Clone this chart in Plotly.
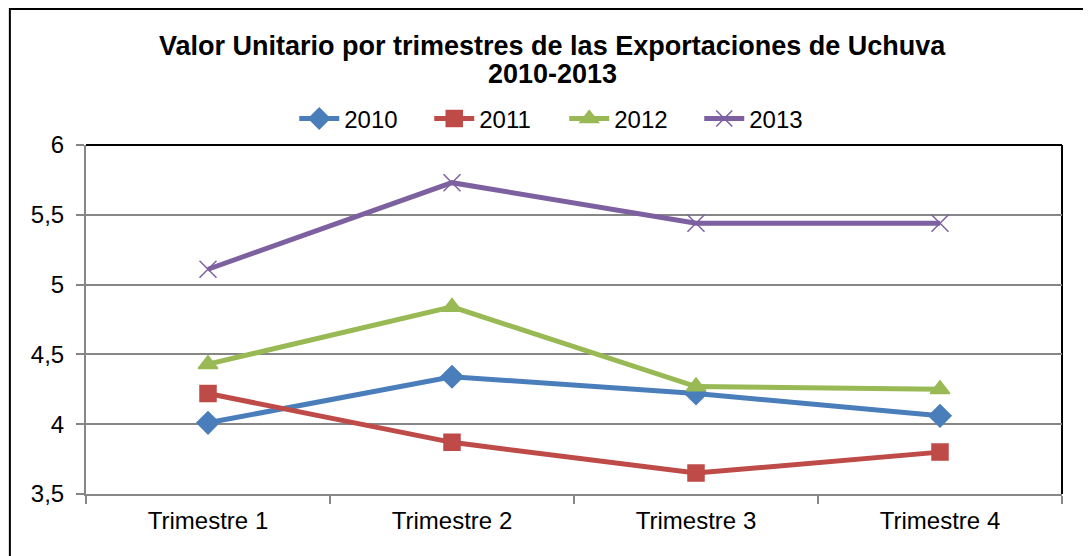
import plotly.graph_objects as go

trimestres = ["Trimestre 1", "Trimestre 2", "Trimestre 3", "Trimestre 4"]
v2010 = [4.01, 4.34, 4.22, 4.06]
v2011 = [4.22, 3.87, 3.65, 3.80]
v2012 = [4.43, 4.84, 4.27, 4.25]
v2013 = [5.11, 5.73, 5.44, 5.44]

series = [
    ("2010", v2010, "#4A7EBB", "diamond", 17),
    ("2011", v2011, "#BE4B48", "square", 16),
    ("2012", v2012, "#98B954", "triangle-up", 17),
    ("2013", v2013, "#7D60A0", "x-thin", 17),
]

fig = go.Figure()
for name, vals, color, symbol, size in series:
    fig.add_trace(go.Scatter(
        x=trimestres,
        y=vals,
        name=name,
        mode="lines+markers",
        line=dict(color=color, width=5),
        marker=dict(symbol=symbol, size=size, color=color,
                    line=dict(color=color, width=1.5)),
    ))

# the page body has an 8px margin, so the figure is 8px smaller
fig.update_layout(
    width=1083,
    height=548,
    margin=dict(l=78, r=29, t=137, b=62),
    paper_bgcolor="white",
    plot_bgcolor="white",
    font=dict(family="Liberation Sans, Arial", size=24, color="black"),
    showlegend=True,
    legend=dict(
        orientation="h",
        x=0.49, xanchor="center",
        y=1.075, yanchor="middle",
        font=dict(size=24),
        itemwidth=40,
        entrywidth=80,
        traceorder="normal",
    ),
    separators=",.",
)

# two-line bold title
fig.add_annotation(text="<b>Valor Unitario por trimestres de las Exportaciones de Uchuva</b>",
                   xref="paper", yref="paper", x=0.4775, y=1.2837, yanchor="middle",
                   showarrow=False, font=dict(size=27, color="black"))
fig.add_annotation(text="<b>2010-2013</b>",
                   xref="paper", yref="paper", x=0.4775, y=1.2034, yanchor="middle",
                   showarrow=False, font=dict(size=27, color="black"))

fig.update_xaxes(
    range=[-0.5, 3.5],
    showline=True, linecolor="#868686", linewidth=2,
    ticks="outside", tickson="boundaries", ticklen=8, tickcolor="#868686", tickwidth=2,
    showgrid=False,
    ticklabelstandoff=4,
)
fig.update_yaxes(
    range=[3.5, 6],
    dtick=0.5,
    tickformat=".1~f",
    showline=True, linecolor="#868686", linewidth=2,
    ticks="outside", ticklen=8, tickcolor="#868686", tickwidth=2,
    showgrid=True, gridcolor="#868686", gridwidth=2,
    zeroline=False,
    ticklabelstandoff=7,
)

# plot area border (top and right) and outer chart border
fig.add_shape(type="line", xref="paper", yref="paper", x0=0, x1=1, y0=1, y1=1,
              line=dict(color="black", width=2), layer="below")
fig.add_shape(type="line", xref="paper", yref="paper", x0=1, x1=1, y0=0, y1=1,
              line=dict(color="black", width=2), layer="below")
fig.add_shape(type="rect", xref="paper", yref="paper",
              x0=-0.078, x1=1.028, y0=-0.2, y1=1.39,
              line=dict(color="black", width=2), fillcolor="rgba(0,0,0,0)")

fig.write_html("out.html")
